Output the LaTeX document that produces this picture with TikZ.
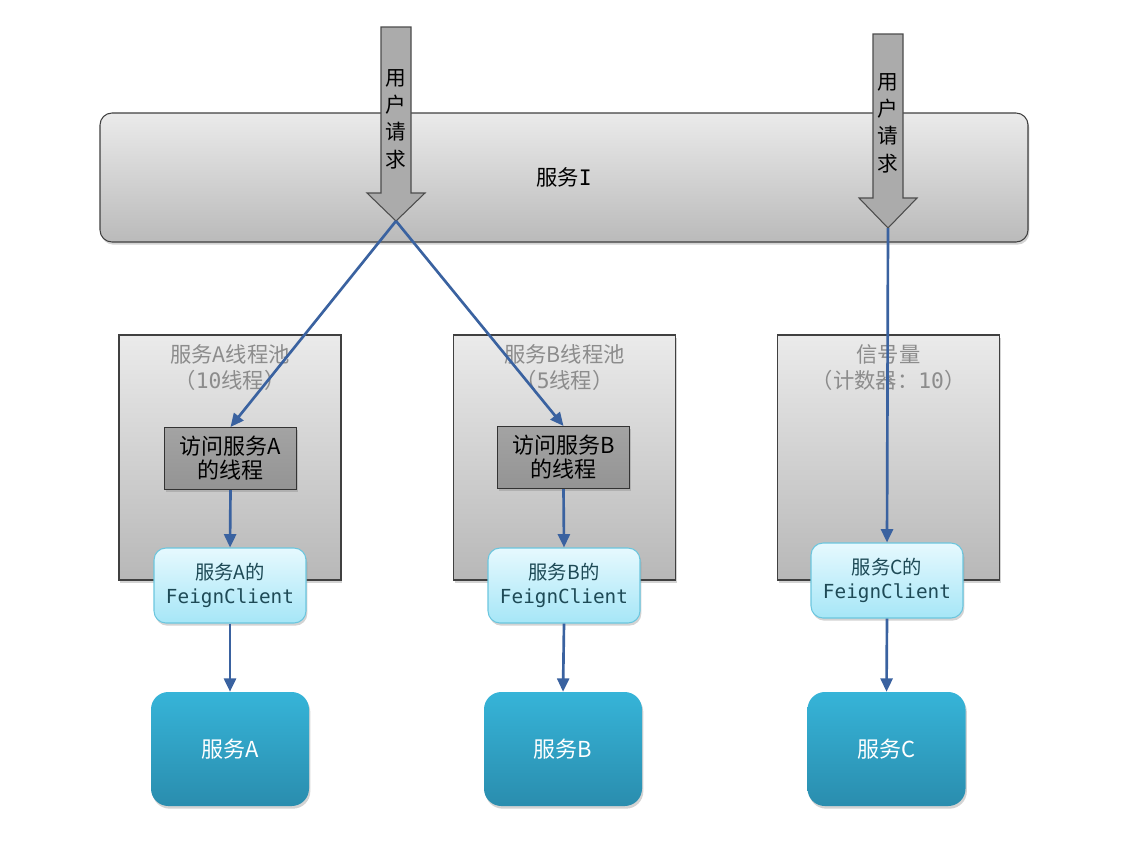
\documentclass[tikz,border=0pt]{standalone}
\usepackage{fontspec}
\setmainfont{Noto Sans CJK SC}
\newfontfamily\feignmono{DejaVu Sans Mono}
\usetikzlibrary{shadows,arrows.meta}
\definecolor{conn}{HTML}{3A62A0}
\definecolor{pooltxt}{HTML}{8C8C8C}
\definecolor{feigntxt}{HTML}{1E4A56}
\definecolor{feignborder}{HTML}{6CC6DE}
\definecolor{feigntop}{HTML}{E6F9FE}
\definecolor{feignbot}{HTML}{A6E6F7}
\definecolor{svctop}{HTML}{36B4D8}
\definecolor{svcbot}{HTML}{2A8DAE}
\tikzset{
  shade/.style={drop shadow={opacity=0.35,shadow xshift=1pt,shadow yshift=-2pt}},
  mainbox/.style={draw=black!75,line width=0.8pt,rounded corners=9pt,top color=black!8,bottom color=black!27,shade,
    minimum width=696pt,minimum height=96.75pt,font=\fontsize{16}{20}\selectfont},
  poolbox/.style={draw=black!75,line width=0.8pt,top color=black!8,bottom color=black!28,shade,
    minimum width=166.5pt,minimum height=183.75pt},
  pooltitle/.style={text=pooltxt,align=center,font=\fontsize{16}{19.5}\selectfont},
  thread/.style={draw=black!80,line width=0.8pt,top color=black!36,bottom color=black!42,shade,
    minimum width=99pt,minimum height=46.5pt,align=center,inner sep=0pt,font=\fontsize{16.5}{18}\selectfont},
  feign/.style={draw=feignborder,line width=0.8pt,rounded corners=9pt,top color=feigntop,bottom color=feignbot,shade,
    minimum width=114pt,minimum height=56.25pt,align=center,inner sep=0pt,text=feigntxt,font=\fontsize{14.5}{18}\selectfont},
  svc/.style={rounded corners=13pt,top color=svctop,bottom color=svcbot,shade,
    minimum width=118.5pt,minimum height=85.5pt,text=white,font=\fontsize{16.5}{20}\selectfont},
  grayarrow/.style={draw=black!70,line width=0.8pt,fill=black!33},
  vtext/.style={align=center,font=\fontsize{15.5}{20.5}\selectfont},
  conn/.style={draw=conn,line width=2pt,-{Triangle[length=10pt,width=9pt]}}
}
\begin{document}
\begin{tikzpicture}[x=0.75pt,y=-0.75pt]
\useasboundingbox (0,0) rectangle (1134,864);

% service I
\node[mainbox] (svcI) at (564,177.5) {服务{\feignmono I}};

% pools
\node[poolbox] (poolA) at (230,457.5) {};
\node[poolbox] (poolB) at (564.5,457.5) {};
\node[poolbox] (sem) at (888.5,457.5) {};
\node[pooltitle] (poolAt) at (230,368) {服务A线程池\\（{\feignmono 10}线程）};
\node[pooltitle] (poolBt) at (564.5,368) {服务B线程池\\（{\feignmono 5}线程）};
\node[pooltitle] (semt) at (888.5,368) {信号量\\（计数器：{\feignmono 10}）};

% threads
\node[thread] (tA) at (230.5,458.5) {访问服务A\\的线程};
\node[thread] (tB) at (563.5,457.5) {访问服务B\\的线程};

% feign clients
\node[feign] (fA) at (230,585.5) {服务A的\\{\feignmono FeignClient}};
\node[feign] (fB) at (564,585.5) {服务B的\\{\feignmono FeignClient}};
\node[feign] (fC) at (887,580.5) {服务C的\\{\feignmono FeignClient}};

% services
\node[svc] (sA) at (230,749) {服务A};
\node[svc] (sB) at (563,749) {服务B};
\node[svc] (sC) at (886.5,749) {服务C};

% gray user-request arrows
\draw[grayarrow] (381,27) -- (411,27) -- (411,193) -- (425,193) -- (396,221) -- (367,193) -- (381,193) -- cycle;
\coordinate (tip1) at (396,221);
\node[vtext] (req1) at (396,119) {用\\户\\请\\求};
\draw[grayarrow] (873,34) -- (903,34) -- (903,198) -- (917,198) -- (888,228) -- (859,198) -- (873,198) -- cycle;
\coordinate (tip2) at (888,228);
\node[vtext] (req2) at (888,123) {用\\户\\请\\求};

% connectors
\draw[conn] (tip1) -- (tA.north);
\draw[conn] (tip1) -- (tB.north);
\draw[conn] (tip2) -- (fC.north);
\draw[conn] (tA.south) -- (fA.north);
\draw[conn] (tB.south) -- (fB.north);
\draw[conn] (fA.south) -- (sA.north);
\draw[conn] (fB.south) -- (sB.north);
\draw[conn] (fC.south) -- (sC.north);
\end{tikzpicture}
\end{document}
